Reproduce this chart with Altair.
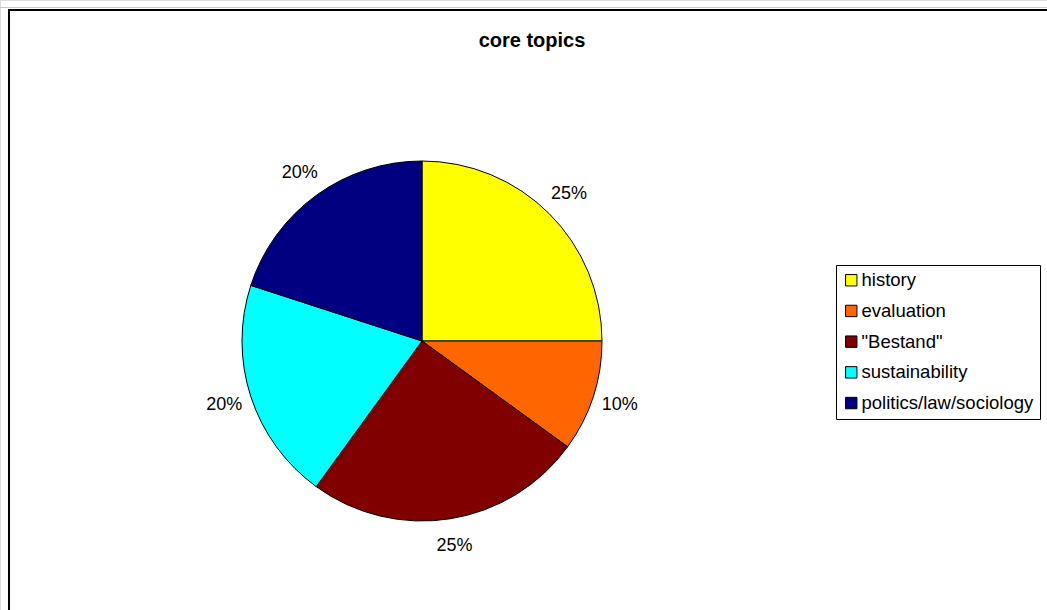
import altair as alt
import pandas as pd

categories = ["history", "evaluation", "\"Bestand\"", "sustainability", "politics/law/sociology"]
values = [25, 10, 25, 20, 20]
colors = ["#FFFF00", "#FF6600", "#800000", "#00FFFF", "#000080"]
title_text = "core topics"

df = pd.DataFrame({"topic": categories, "value": values, "order": list(range(len(categories)))})

FONT = "Liberation Sans"
CX, CY = 422, 341

base = alt.Chart(df).encode(
    theta=alt.Theta("value:Q", stack=True),
    order=alt.Order("order:Q"),
)

arcs = base.mark_arc(outerRadius=180, stroke="black", strokeWidth=1).encode(
    x=alt.value(CX),
    y=alt.value(CY),
    color=alt.Color(
        "topic:N",
        scale=alt.Scale(domain=categories, range=colors),
        sort=categories,
        legend=alt.Legend(
            title=None,
            orient="none",
            legendX=836,
            legendY=265,
            symbolType="square",
            symbolSize=130,
            symbolStrokeColor="black",
            symbolStrokeWidth=1,
            labelFont=FONT,
            labelFontSize=18.5,
            labelColor="black",
            labelOffset=1,
            rowPadding=11.7,
            padding=6,
            strokeColor="black",
            fillColor="white",
            cornerRadius=0,
            labelLimit=400,
        ),
    ),
)

labels = base.mark_text(radius=208, font=FONT, fontSize=18, color="black").transform_calculate(
    label="datum.value + '%'"
).encode(
    x=alt.value(CX),
    y=alt.value(CY),
    text="label:N",
)

title = alt.Chart(pd.DataFrame({"t": [title_text]})).mark_text(
    font=FONT, fontSize=20, fontWeight="bold", color="black"
).encode(x=alt.value(532), y=alt.value(41), text="t:N")

frame = alt.Chart(pd.DataFrame({"a": [0]})).mark_rect(
    fill=None, stroke="black", strokeWidth=2
).encode(x=alt.value(9), y=alt.value(10), x2=alt.value(1100), y2=alt.value(700))

topline = alt.Chart(pd.DataFrame({"a": [0]})).mark_rule(color="#c8c8c8", strokeWidth=1).encode(
    x=alt.value(0), x2=alt.value(1047), y=alt.value(7.5)
)

chart = alt.layer(topline, frame, arcs, labels, title).properties(
    width=1047, height=610, padding=0, autosize=alt.AutoSizeParams(type="none")
).configure_view(stroke=None).configure(background="white")

chart.save("out.html", embed_options={"renderer": "svg", "actions": False})
